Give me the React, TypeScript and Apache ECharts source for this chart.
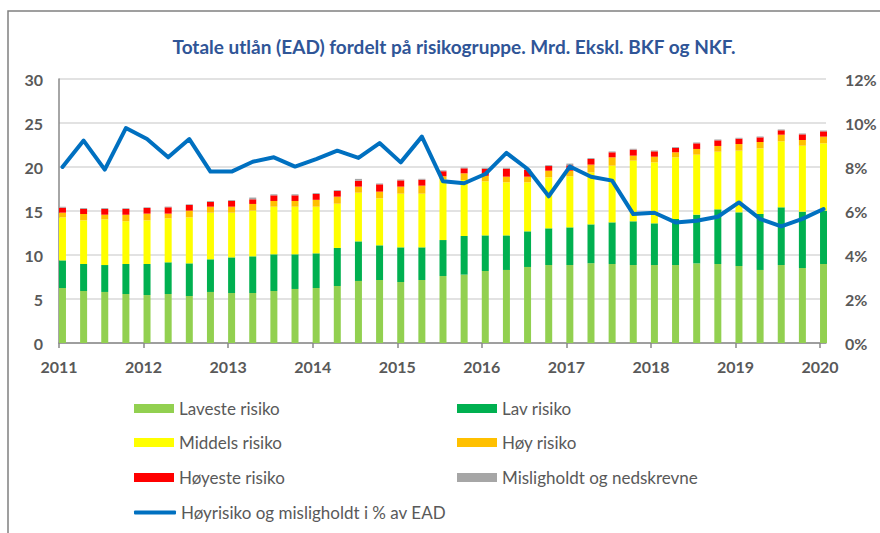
import React, { useEffect, useRef } from "react";
import * as echarts from "echarts";

const yearLabels = ["2011", "2012", "2013", "2014", "2015", "2016", "2017", "2018", "2019", "2020"];
const quarterLabels = yearLabels.flatMap((y, k) => (k < yearLabels.length - 1 ? [y + "K1", y + "K2", y + "K3", y + "K4"] : [y + "K1"]));

const laveste = [6.25, 5.91, 5.80, 5.57, 5.45, 5.57, 5.34, 5.80, 5.68, 5.68, 5.91, 6.14, 6.25, 6.48, 7.05, 7.16, 6.93, 7.16, 7.61, 7.77, 8.18, 8.30, 8.64, 8.86, 8.86, 9.07, 8.98, 8.86, 8.86, 8.86, 9.05, 8.98, 8.75, 8.30, 8.86, 8.52, 8.98];
const lav = [3.14, 3.07, 3.06, 3.41, 3.53, 3.60, 3.71, 3.71, 4.05, 4.17, 4.17, 3.94, 3.94, 4.32, 4.50, 3.94, 3.94, 3.71, 4.09, 4.39, 4.05, 3.93, 4.05, 4.17, 4.28, 4.41, 4.73, 4.97, 4.74, 5.23, 5.53, 6.21, 6.10, 6.36, 6.56, 6.40, 6.06];
const middels = [4.89, 4.96, 5.19, 4.85, 4.96, 5.00, 5.23, 5.30, 5.08, 5.19, 5.41, 5.41, 5.30, 5.03, 5.53, 5.34, 6.10, 6.10, 6.90, 6.36, 6.14, 6.03, 5.57, 5.80, 5.80, 5.91, 6.44, 6.89, 6.93, 7.01, 6.82, 6.55, 7.01, 7.46, 7.50, 7.50, 7.65];
const hoy = [0.53, 0.72, 0.53, 0.75, 0.76, 0.53, 0.76, 0.68, 0.68, 0.76, 0.65, 0.65, 0.78, 0.80, 0.69, 0.76, 0.80, 0.91, 0.35, 0.76, 0.63, 0.64, 0.64, 0.75, 0.64, 0.88, 0.95, 0.57, 0.64, 0.57, 0.65, 0.65, 0.75, 0.72, 0.75, 0.65, 0.76];
const hoyeste = [0.57, 0.57, 0.65, 0.65, 0.64, 0.72, 0.64, 0.53, 0.65, 0.53, 0.64, 0.64, 0.66, 0.64, 0.68, 0.83, 0.71, 0.68, 0.57, 0.57, 0.81, 0.91, 0.76, 0.53, 0.61, 0.64, 0.57, 0.68, 0.61, 0.49, 0.64, 0.64, 0.61, 0.53, 0.50, 0.64, 0.60];
const mislighold = [0.10, 0.10, 0.10, 0.08, 0.08, 0.08, 0.08, 0.10, 0.10, 0.20, 0.12, 0.12, 0.10, 0.10, 0.20, 0.10, 0.10, 0.10, 0.10, 0.10, 0.10, 0.10, 0.10, 0.10, 0.20, 0.10, 0.10, 0.10, 0.10, 0.10, 0.10, 0.10, 0.10, 0.10, 0.10, 0.10, 0.10];
const hoyrisikoPct = [8.0, 9.2, 7.88, 9.77, 9.27, 8.44, 9.27, 7.79, 7.79, 8.24, 8.44, 8.02, 8.36, 8.74, 8.41, 9.09, 8.21, 9.38, 7.35, 7.26, 7.68, 8.64, 7.91, 6.67, 8.02, 7.56, 7.38, 5.86, 5.92, 5.48, 5.56, 5.74, 6.39, 5.64, 5.30, 5.64, 6.09];

const seriesNames = ["Laveste risiko", "Lav risiko", "Middels risiko", "Høy risiko", "Høyeste risiko", "Misligholdt og nedskrevne"];
const lineName = "Høyrisiko og misligholdt i % av EAD";
const titleText = "Totale utlån (EAD) fordelt på risikogruppe. Mrd. Ekskl. BKF og NKF.";

export default function App() {
  const ref = useRef<HTMLDivElement>(null);
  useEffect(() => {
    if (!ref.current) return;
    const chart = echarts.init(ref.current, undefined, { renderer: "svg" });
    const font = "Lato, 'Liberation Sans', sans-serif";
    const gray = "#595959";
    const barSets = [laveste, lav, middels, hoy, hoyeste, mislighold];
    const colors = ["#92D050", "#00B050", "#FFFF00", "#FFC000", "#FF0000", "#A6A6A6"];
    const yearTicks = yearLabels.map((_, k) => k * 4);

    const barSeries = barSets.map((arr, k) => ({
      name: seriesNames[k],
      type: "bar",
      stack: "total",
      barWidth: 7,
      xAxisIndex: 1,
      yAxisIndex: 2,
      data: arr,
      itemStyle: { color: colors[k] },
      emphasis: { disabled: true },
    }));

    const legendPos = [
      { left: 134, top: 400 },
      { left: 457, top: 400 },
      { left: 134, top: 434 },
      { left: 457, top: 434 },
      { left: 134, top: 469 },
      { left: 457, top: 469 },
    ];
    const legends: any[] = seriesNames.map((n, k) => ({
      data: [{ name: n, icon: "rect" }],
      left: legendPos[k].left,
      top: legendPos[k].top,
      padding: 0,
      itemWidth: 40,
      itemHeight: 9,
      selectedMode: false,
      textStyle: { color: gray, fontSize: 17, fontFamily: font },
    }));
    legends.push({
      data: [{ name: lineName, icon: "roundRect" }],
      left: 134,
      top: 504,
      padding: 0,
      itemWidth: 42,
      itemHeight: 4,
      selectedMode: false,
      itemStyle: { color: "#0070C0" },
      textStyle: { color: gray, fontSize: 17, fontFamily: font },
    });

    const gridTop = 79;
    const gridBottom = 190;

    const option: any = {
      animation: false,
      textStyle: { fontFamily: font },
      title: {
        text: titleText,
        left: 449,
        top: 32,
        textAlign: "center",
        textStyle: { color: "#2F5597", fontSize: 19, fontWeight: "bold", fontFamily: font },
      },
      graphic: [
        {
          type: "rect",
          shape: { x: 8, y: 11, width: 900, height: 600 },
          style: { fill: "none", stroke: "#808080", lineWidth: 1.5 },
          silent: true,
          z: -10,
        },
      ],
      legend: legends,
      grid: [
        { left: 59, right: 54, top: gridTop, bottom: gridBottom, containLabel: false, outerBoundsMode: "none" },
        { left: 51.9, right: 45.9, top: gridTop, bottom: gridBottom, containLabel: false, outerBoundsMode: "none" },
      ],
      xAxis: [
        {
          type: "value",
          gridIndex: 0,
          min: 0,
          max: 36.28,
          interval: 4,
          axisLine: { show: true, onZero: false, lineStyle: { color: "#888888", width: 1.5 } },
          axisTick: { show: true, length: 5, customValues: yearTicks, lineStyle: { color: "#888888", width: 1.5 } },
          axisLabel: {
            customValues: yearTicks,
            margin: 15,
            color: gray,
            fontWeight: "bold",
            fontSize: 16,
            fontFamily: font,
            formatter: (v: number) => {
              const k = Math.round(v / 4);
              return Math.abs(v - k * 4) < 1e-6 && yearLabels[k] ? yearLabels[k] : "";
            },
          },
          splitLine: { show: false },
        },
        {
          type: "category",
          gridIndex: 1,
          data: quarterLabels,
          boundaryGap: true,
          show: false,
        },
      ],
      yAxis: [
        {
          type: "value",
          gridIndex: 0,
          min: 0,
          max: 30,
          interval: 5,
          axisLine: { show: true, lineStyle: { color: "#888888", width: 1.5 } },
          axisTick: { show: false },
          axisLabel: { margin: 16, color: gray, fontWeight: "bold", fontSize: 16, fontFamily: font },
          splitLine: { show: true, lineStyle: { color: "#D9D9D9", width: 1.5 } },
        },
        {
          type: "value",
          gridIndex: 0,
          min: 0,
          max: 0.12,
          interval: 0.02,
          position: "right",
          axisLine: { show: false },
          axisTick: { show: false },
          splitLine: { show: false },
          axisLabel: {
            margin: 19,
            color: gray,
            fontWeight: "bold",
            fontSize: 16,
            fontFamily: font,
            formatter: (v: number) => Math.round(v * 100) + "%",
          },
        },
        { type: "value", gridIndex: 1, min: 0, max: 30, interval: 5, show: false, splitLine: { show: false } },
        { type: "value", gridIndex: 1, min: 0, max: 0.12, interval: 0.02, position: "right", show: false, splitLine: { show: false } },
      ],
      series: [
        ...barSeries,
        {
          name: lineName,
          type: "line",
          xAxisIndex: 1,
          yAxisIndex: 3,
          data: hoyrisikoPct.map((v) => v / 100),
          symbol: "none",
          showSymbol: false,
          lineStyle: { color: "#0070C0", width: 4, join: "round", cap: "round" },
          itemStyle: { color: "#0070C0" },
          emphasis: { disabled: true },
          z: 5,
        },
      ],
    };
    chart.setOption(option);
    return () => chart.dispose();
  }, []);
  return <div ref={ref} style={{ position: "absolute", left: 0, top: 0, width: 880, height: 533, background: "#fff" }} />;
}
